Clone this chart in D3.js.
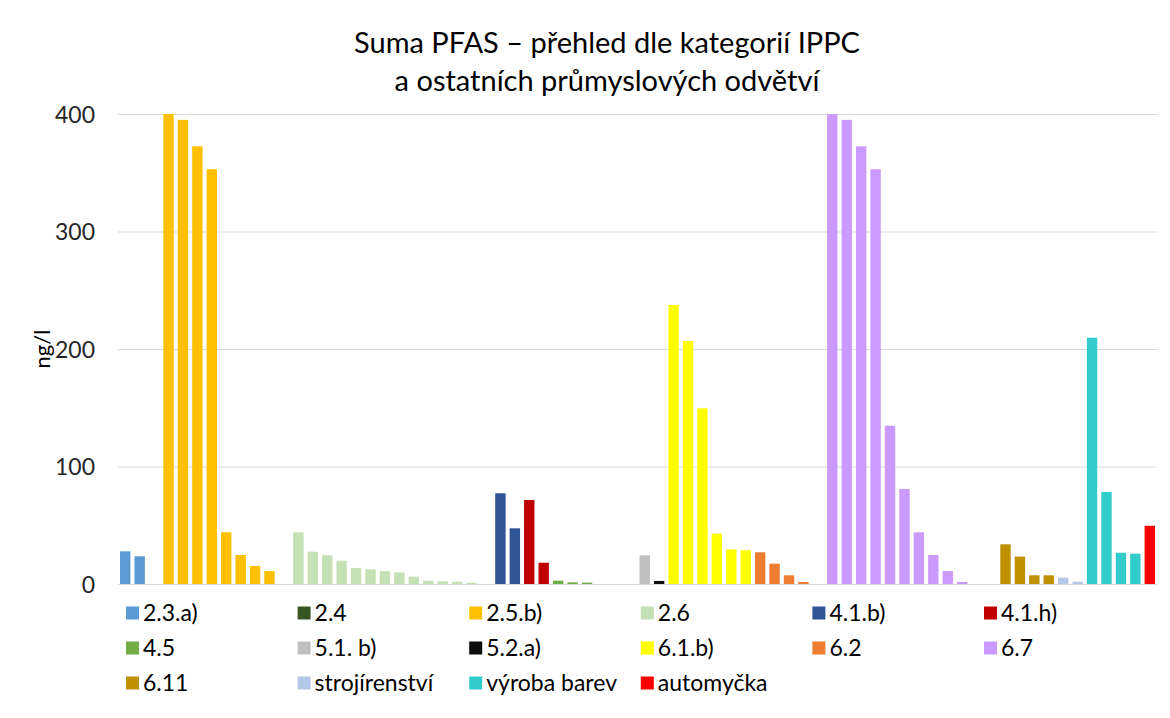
<!DOCTYPE html>
<html>
<head>
<meta charset="utf-8">
<script src="https://cdn.jsdelivr.net/npm/d3@7"></script>
<style>
  html, body { margin: 0; padding: 0; background: #fff; }
  svg { display: block; }
  text { font-family: Lato, "Open Sans", "Liberation Sans", sans-serif; fill: #262626; }
</style>
</head>
<body>
<svg id="chart" width="1170" height="718"></svg>
<script>
// ---- data ----
const titleLines = ["Suma PFAS – přehled dle kategorií IPPC", "a ostatních průmyslových odvětví"];
const yLabel = "ng/l";
const yTicks = [0, 100, 200, 300, 400];

const categories = ["2.3.a)", "2.4", "2.5.b)", "2.6", "4.1.b)", "4.1.h)", "4.5", "5.1. b)", "5.2.a)",
                    "6.1.b)", "6.2", "6.7", "6.11", "strojírenství", "výroba barev", "automyčka"];
const colors = ["#5B9BD5", "#375623", "#FFC000", "#C5E0B4", "#2F5597", "#C00000", "#70AD47", "#BFBFBF", "#0D0D0D",
                "#FFFF00", "#ED7D31", "#CC99FF", "#BF9000", "#B4C7E7", "#33CCCC", "#FF0000"];
// null = empty sample position (no bar)
const values_2_3_a = [27.8, 23.6];
const values_2_4 = [null];
const values_2_5_b = [400, 395, 372.5, 353, 44, 24.7, 15.3, 11, null];
const values_2_6 = [44, 27.5, 24.4, 19.8, 13.6, 12.5, 11, 9.9, 6.2, 2.8, 2.3, 2, 1.1, null];
const values_4_1_b = [77.2, 47.4];
const values_4_1_h = [71.5, 18.1];
const values_4_5 = [2.8, 1.4, 1.2, null, null, null];
const values_5_1_b = [24.4];
const values_5_2_a = [2.6];
const values_6_1_b = [237.4, 206.8, 149.5, 42.8, 29.5, 28.7];
const values_6_2 = [27, 17.3, 7.4, 1.7, null];
const values_6_7 = [400, 395, 372.5, 353, 134.7, 80.9, 44, 24.7, 11, 1.7, null, null];
const values_6_11 = [33.8, 23.3, 7.4, 7.4];
const values_strojirenstvi = [5.4, 2.0];
const values_vyroba_barev = [209.6, 78.3, 26.6, 25.8];
const values_automycka = [49.6];

const seriesValues = [values_2_3_a, values_2_4, values_2_5_b, values_2_6, values_4_1_b, values_4_1_h, values_4_5,
                      values_5_1_b, values_5_2_a, values_6_1_b, values_6_2, values_6_7, values_6_11,
                      values_strojirenstvi, values_vyroba_barev, values_automycka];

// ---- flatten into slots ----
const slots = [];
seriesValues.forEach((vals, ci) => vals.forEach(v => slots.push({cat: ci, value: v, i: slots.length})));

// ---- layout ----
const svg = d3.select("#chart");
const plot = {left: 118, right: 1157, top: 114, bottom: 584};

const x = d3.scaleBand()
  .domain(slots.map(d => d.i))
  .range([plot.left, plot.right])
  .paddingInner(0.28)
  .paddingOuter(0.14);

const y = d3.scaleLinear().domain([0, 400]).range([plot.bottom, plot.top]).clamp(true);

// title
svg.append("g").selectAll("text").data(titleLines).join("text")
  .attr("x", 607).attr("y", (d, i) => 53 + i * 38)
  .attr("text-anchor", "middle")
  .style("font-size", "29px")
  .style("fill", "#000")
  .text(d => d);

// gridlines
const yAxis = d3.axisLeft(y).tickValues(yTicks).tickSize(-(plot.right - plot.left)).tickPadding(23).tickFormat(d3.format("d"));
const gy = svg.append("g").attr("transform", `translate(${plot.left},0)`).call(yAxis);
gy.select(".domain").remove();
gy.selectAll(".tick line").attr("stroke", "#D9D9D9").attr("stroke-width", 1);
gy.selectAll(".tick text").style("font-size", "23px").style("fill", "#262626").attr("dy", "0.35em");

// bars
svg.append("g").selectAll("rect").data(slots.filter(d => d.value !== null)).join("rect")
  .attr("x", d => x(d.i))
  .attr("width", x.bandwidth())
  .attr("y", d => y(d.value))
  .attr("height", d => y(0) - y(d.value))
  .attr("fill", d => colors[d.cat]);

// baseline
svg.append("line")
  .attr("x1", plot.left).attr("x2", plot.right)
  .attr("y1", y(0) + 0.5).attr("y2", y(0) + 0.5)
  .attr("stroke", "#D9D9D9").attr("stroke-width", 1);

// y label
svg.append("text")
  .attr("transform", `translate(50,${(plot.top + plot.bottom) / 2}) rotate(-90)`)
  .attr("text-anchor", "middle")
  .style("font-size", "22px")
  .style("fill", "#000")
  .text(yLabel);

// legend
const legCols = 6, legX0 = 126, legDX = 171.6, legY0 = 613, legDY = 35;
const leg = svg.append("g").selectAll("g").data(categories).join("g")
  .attr("transform", (d, i) => `translate(${legX0 + (i % legCols) * legDX},${legY0 + Math.floor(i / legCols) * legDY})`);
leg.append("rect").attr("x", 0).attr("y", -6.5).attr("width", 13).attr("height", 13)
  .attr("fill", (d, i) => colors[i]);
leg.append("text").attr("x", 17).attr("y", 0).attr("dy", "0.35em")
  .style("font-size", "23px").style("fill", "#000")
  .text(d => d);
</script>
</body>
</html>
